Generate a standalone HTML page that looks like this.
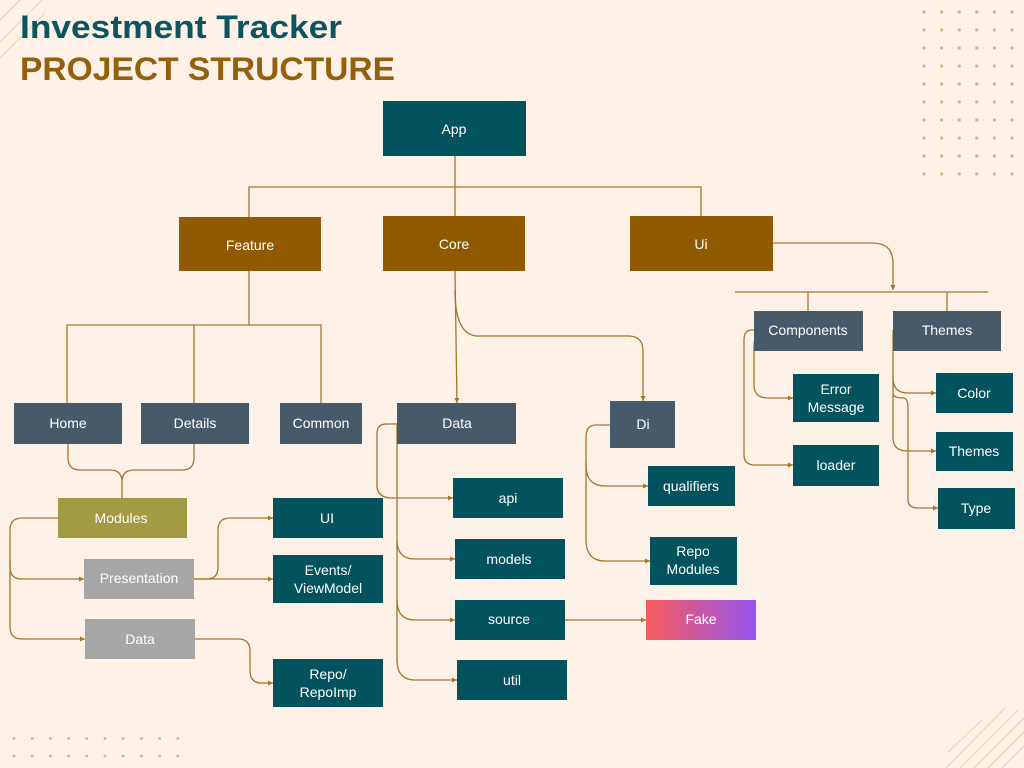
<!DOCTYPE html>
<html><head><meta charset="utf-8"><style>
html,body{margin:0;padding:0;background:#fdf1e8;}
svg{display:block}
text{font-family:"Liberation Sans",sans-serif;}
.t{fill:#fff;font-size:14px;text-anchor:middle;}
.l{fill:none;stroke:#a8742a;stroke-width:1.3;}
</style></head><body>
<svg width="1024" height="768" viewBox="0 0 1024 768" xmlns="http://www.w3.org/2000/svg">
<defs>
<marker id="a" markerWidth="6" markerHeight="6" refX="5" refY="3" orient="auto" markerUnits="userSpaceOnUse"><path d="M0,0.5 L5,3 L0,5.5z" fill="#a8742a"/></marker>
<linearGradient id="g" x1="0" x2="1"><stop offset="0" stop-color="#f85a5e"/><stop offset="1" stop-color="#9656f0"/></linearGradient>
<pattern id="dt" width="17.6" height="18" patternUnits="userSpaceOnUse" x="915" y="3"><circle cx="9" cy="9" r="1.6" fill="#c9bb80"/></pattern>
<pattern id="db" width="18.2" height="17.5" patternUnits="userSpaceOnUse" x="5" y="730"><circle cx="9" cy="8.5" r="1.4" fill="#c9bb80"/></pattern>
</defs>
<rect width="1024" height="768" fill="#fdf1e8"/>
<rect x="915" y="3" width="106" height="180" fill="url(#dt)"/>
<rect x="5" y="730" width="182" height="35" fill="url(#db)"/>
<g stroke="#f0c795" stroke-width="0.8">
<line x1="0" y1="20" x2="20" y2="0"/><line x1="0" y1="42" x2="42" y2="0"/><line x1="0" y1="58" x2="45" y2="13"/>
<line x1="948" y1="752" x2="982" y2="720"/><line x1="946" y1="768" x2="1005" y2="708"/><line x1="960" y1="768" x2="1018" y2="710"/><line x1="974" y1="768" x2="1024" y2="718"/><line x1="988" y1="768" x2="1024" y2="732"/><line x1="1002" y1="768" x2="1024" y2="746"/>
</g>
<text x="20" y="38" textLength="322" lengthAdjust="spacingAndGlyphs" style="font-size:32px;font-weight:bold;fill:#0c5560">Investment Tracker</text>
<text x="20" y="80" textLength="375" lengthAdjust="spacingAndGlyphs" style="font-size:32px;font-weight:bold;fill:#94600c">PROJECT STRUCTURE</text>

<path class="l" d="M455,156 V271 M249,217 V187 H701 V216"/>
<path class="l" d="M249,271 V325 M67,403 V325 H321 V403 M194,325 V403"/>
<path class="l" d="M68,444 V458 Q68,470 80,470 H110 Q122,470 122,482 V498 M194,444 V458 Q194,470 182,470 H134 Q122,470 122,482"/>
<path class="l" marker-end="url(#a)" d="M58,518 H22 Q10,518 10,530 V567 Q10,579 22,579 H84"/>
<path class="l" marker-end="url(#a)" d="M10,560 V627 Q10,639 22,639 H85"/>
<path class="l" marker-end="url(#a)" d="M194,579 H207 Q218,579 218,567 V530 Q218,518 230,518 H273"/>
<path class="l" marker-end="url(#a)" d="M194,579 H273"/>
<path class="l" marker-end="url(#a)" d="M195,639 H238 Q250,639 250,651 V671 Q250,683 262,683 H273"/>
<path class="l" marker-end="url(#a)" d="M455,271 L457,403"/>
<path class="l" marker-end="url(#a)" d="M455,290 Q455,336 478,336 H628 Q643,336 643,351 V401"/>
<path class="l" marker-end="url(#a)" d="M397,424 H386 Q377,424 377,434 V485 Q377,498 392,498 H453"/>
<path class="l" d="M397,424 V662"/>
<path class="l" marker-end="url(#a)" d="M397,540 Q397,559 415,559 H455"/>
<path class="l" marker-end="url(#a)" d="M397,600 Q397,620 415,620 H455"/>
<path class="l" marker-end="url(#a)" d="M397,660 Q397,680 415,680 H457"/>
<path class="l" marker-end="url(#a)" d="M565,620 H646"/>
<path class="l" marker-end="url(#a)" d="M610,425 H596 Q586,425 586,437 V465 Q586,486 605,486 H648"/>
<path class="l" marker-end="url(#a)" d="M586,460 V540 Q586,561 605,561 H650"/>
<path class="l" marker-end="url(#a)" d="M773,243 H872 Q893,243 893,263 V290"/>
<path class="l" stroke-width="1.6" d="M735,292 H988 M808,292 V311 M947,292 V311"/>
<path class="l" marker-end="url(#a)" d="M772,330 H752 Q744,330 744,340 V455 Q744,465 755,465 H793"/>
<path class="l" marker-end="url(#a)" d="M772,336 H762 Q754,336 754,346 V385 Q754,398 768,398 H793"/>
<path class="l" marker-end="url(#a)" d="M893,330 V378 Q893,393 908,393 H936"/>
<path class="l" marker-end="url(#a)" d="M893,375 V438 Q893,451 908,451 H936"/>
<path class="l" marker-end="url(#a)" d="M893,393 Q893,398 903,398 Q908,398 908,408 V500 Q908,508 918,508 H938"/>

<g>
<rect x="383" y="101" width="143" height="55" fill="#02535e"/><text class="t" x="454" y="134">App</text>
<rect x="179" y="217" width="142" height="54" fill="#8f5a02"/><text class="t" x="250" y="250">Feature</text>
<rect x="383" y="216" width="142" height="55" fill="#8f5a02"/><text class="t" x="454" y="249">Core</text>
<rect x="630" y="216" width="143" height="55" fill="#8f5a02"/><text class="t" x="701" y="249">Ui</text>
<rect x="14" y="403" width="108" height="41" fill="#475a69"/><text class="t" x="68" y="428">Home</text>
<rect x="141" y="403" width="108" height="41" fill="#475a69"/><text class="t" x="195" y="428">Details</text>
<rect x="280" y="403" width="82" height="41" fill="#475a69"/><text class="t" x="321" y="428">Common</text>
<rect x="58" y="498" width="129" height="40" fill="#a39a44"/><text class="t" x="121" y="523">Modules</text>
<rect x="84" y="559" width="110" height="40" fill="#a6a6a6"/><text class="t" x="139" y="583">Presentation</text>
<rect x="85" y="619" width="110" height="40" fill="#a6a6a6"/><text class="t" x="140" y="644">Data</text>
<rect x="273" y="498" width="110" height="40" fill="#02535e"/><text class="t" x="327" y="523">UI</text>
<rect x="273" y="555" width="110" height="48" fill="#02535e"/><text class="t" x="328" y="575">Events/</text><text class="t" x="328" y="593">ViewModel</text>
<rect x="273" y="659" width="110" height="48" fill="#02535e"/><text class="t" x="328" y="679">Repo/</text><text class="t" x="328" y="697">RepoImp</text>
<rect x="397" y="403" width="119" height="41" fill="#475a69"/><text class="t" x="457" y="428">Data</text>
<rect x="610" y="401" width="65" height="47" fill="#475a69"/><text class="t" x="643" y="429">Di</text>
<rect x="453" y="478" width="110" height="40" fill="#02535e"/><text class="t" x="508" y="503">api</text>
<rect x="455" y="539" width="110" height="40" fill="#02535e"/><text class="t" x="509" y="564">models</text>
<rect x="455" y="600" width="110" height="40" fill="#02535e"/><text class="t" x="509" y="624">source</text>
<rect x="457" y="660" width="110" height="40" fill="#02535e"/><text class="t" x="512" y="685">util</text>
<rect x="648" y="466" width="87" height="40" fill="#02535e"/><text class="t" x="691" y="491">qualifiers</text>
<rect x="650" y="537" width="87" height="48" fill="#02535e"/><text class="t" x="693" y="556">Repo</text><text class="t" x="693" y="574">Modules</text>
<rect x="646" y="600" width="110" height="40" fill="url(#g)"/><text class="t" x="701" y="624">Fake</text>
<rect x="754" y="311" width="109" height="40" fill="#475a69"/><text class="t" x="808" y="335">Components</text>
<rect x="893" y="311" width="108" height="40" fill="#475a69"/><text class="t" x="947" y="335">Themes</text>
<rect x="793" y="374" width="86" height="48" fill="#02535e"/><text class="t" x="836" y="394">Error</text><text class="t" x="836" y="412">Message</text>
<rect x="793" y="445" width="86" height="41" fill="#02535e"/><text class="t" x="836" y="470">loader</text>
<rect x="936" y="373" width="77" height="40" fill="#02535e"/><text class="t" x="974" y="398">Color</text>
<rect x="936" y="432" width="77" height="39" fill="#02535e"/><text class="t" x="974" y="456">Themes</text>
<rect x="938" y="488" width="77" height="41" fill="#02535e"/><text class="t" x="976" y="513">Type</text>
</g>
</svg>
</body></html>
